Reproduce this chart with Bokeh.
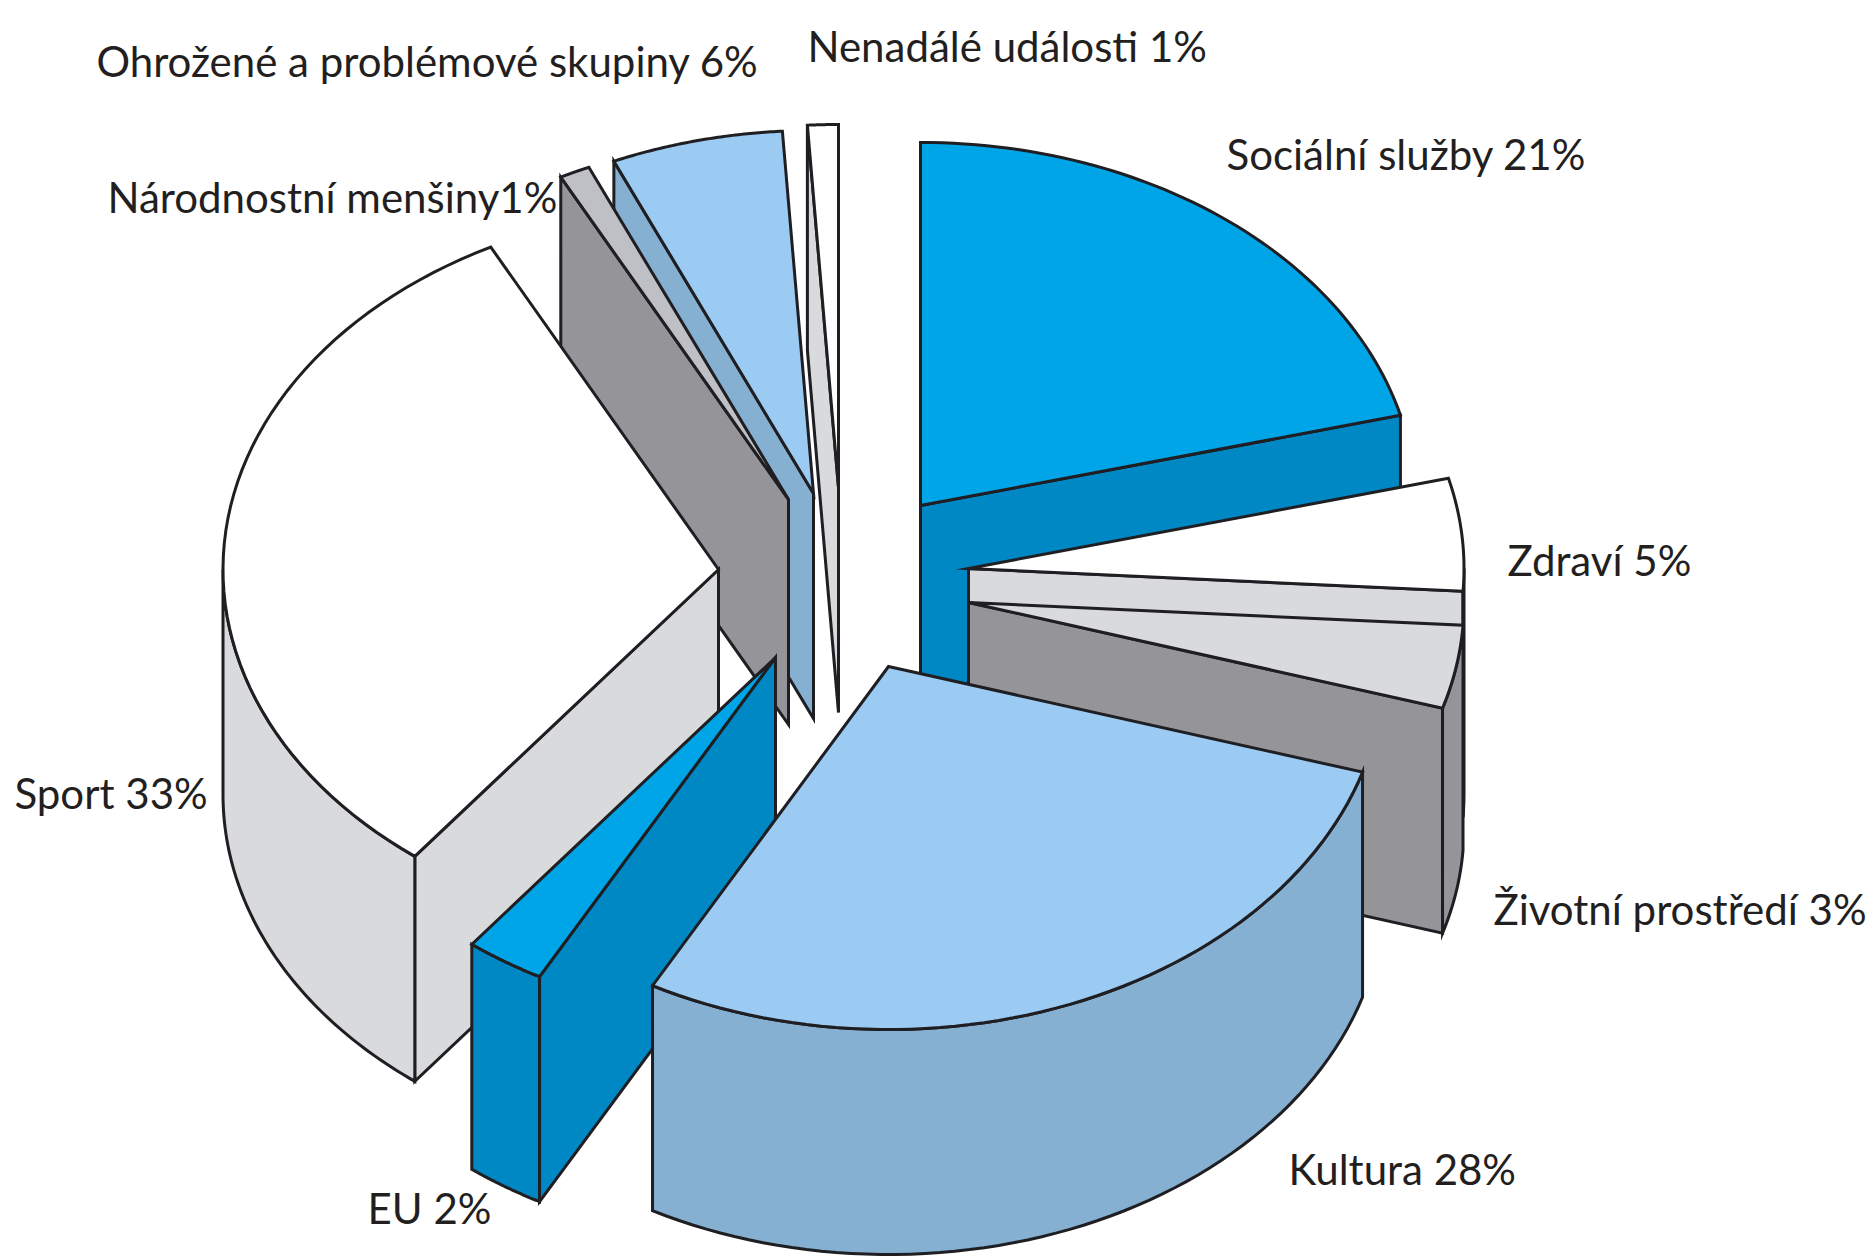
import numpy as np
from bokeh.plotting import figure
from bokeh.models import Range1d, ColumnDataSource
from bokeh.core.properties import value
from bokeh.embed import file_html
from bokeh.resources import INLINE

# --- data: names, printed percentages, and shares
names = ["Sociální služby", "Zdraví", "Životní prostředí", "Kultura", "EU", "Sport",
         "Národnostní menšiny", "Ohrožené a problémové skupiny", "Nenadálé události"]
printed_pct = [21, 5, 3, 28, 2, 33, 1, 6, 1]
shares = [21.0, 5.0, 3.7, 28.2, 2.6, 31.9, 1.0, 5.6, 1.0]

# --- layout and style (3D projection in page pixels)
RX, RY, DEPTH = 495.5, 363.0, 225.0
apex_x = [920, 968, 968, 888, 775, 718, 788, 813, 838]
apex_y = [505, 568, 602, 666, 657, 569, 499, 493, 487]
top_col = ["#00A5E8", "#FFFFFF", "#D9DADC", "#9BCBF2", "#00A5E8", "#FFFFFF", "#BFC0C5", "#9BCBF2", "#FFFFFF"]
wall_col = ["#0088C4", "#D9DADC", "#959499", "#85B0D1", "#0088C4", "#D9DADC", "#959499", "#85B0D1", "#D9DADC"]
# which radial cut is seen: "end" or "start"
cut_seen = ["end", "end", "end", None, "start", "start", "start", "start", "start"]
draw_order = [8, 7, 6, 5, 0, 1, 2, 4, 3]
LINE = "#1F1E22"

label_x = [1226, 1507, 1493, 1288, 367, 14, 107, 96, 807]
label_y = [153, 559, 908, 1168, 1207, 792, 196, 60, 45]
label_sep = [" ", " ", " ", " ", " ", " ", "", " ", " "]
FONT, FONT_SIZE = "Lato", "42px"

edges = np.cumsum([0] + shares) * 360.0 / sum(shares)


def rim(cx, cy, t0, t1, n=60):
    t = np.radians(np.linspace(t0, t1, n))
    return cx + RX * np.sin(t), cy - RY * np.cos(t)


xs, ys, fills = [], [], []


def face(x, y, colour):
    xs.append(list(x))
    ys.append(list(y))
    fills.append(colour)


for i in draw_order:
    cx, cy = apex_x[i], apex_y[i]
    t0, t1 = edges[i], edges[i + 1]
    if cut_seen[i]:
        t = t1 if cut_seen[i] == "end" else t0
        px, py = rim(cx, cy, t, t, 1)
        face([cx, px[0], px[0], cx], [cy, py[0], py[0] + DEPTH, cy + DEPTH], wall_col[i])
    a, b = max(t0, 90), min(t1, 270)
    if a < b:
        ax, ay = rim(cx, cy, a, b)
        face(np.r_[ax, ax[::-1]], np.r_[ay, ay[::-1] + DEPTH], wall_col[i])
    ax, ay = rim(cx, cy, t0, t1)
    face(np.r_[cx, ax], np.r_[cy, ay], top_col[i])

p = figure(width=1872, height=1260, output_backend="svg", toolbar_location=None,
           x_range=Range1d(0, 1872), y_range=Range1d(1260, 0),
           min_border=0, outline_line_color=None, background_fill_color="white")
p.axis.visible = False
p.grid.visible = False

p.patches(xs, ys, fill_color=fills, line_color=LINE, line_width=3.0, line_join="miter")

labels = [f"{n}{s}{v}%" for n, s, v in zip(names, label_sep, printed_pct)]
src = ColumnDataSource(dict(x=label_x, y=label_y, t=labels))
p.text("x", "y", text="t", source=src, text_font=value(FONT), text_font_size=value(FONT_SIZE),
       text_color="#231F20", text_align="left", text_baseline="alphabetic")

open("out.html", "w").write(file_html(p, INLINE))
